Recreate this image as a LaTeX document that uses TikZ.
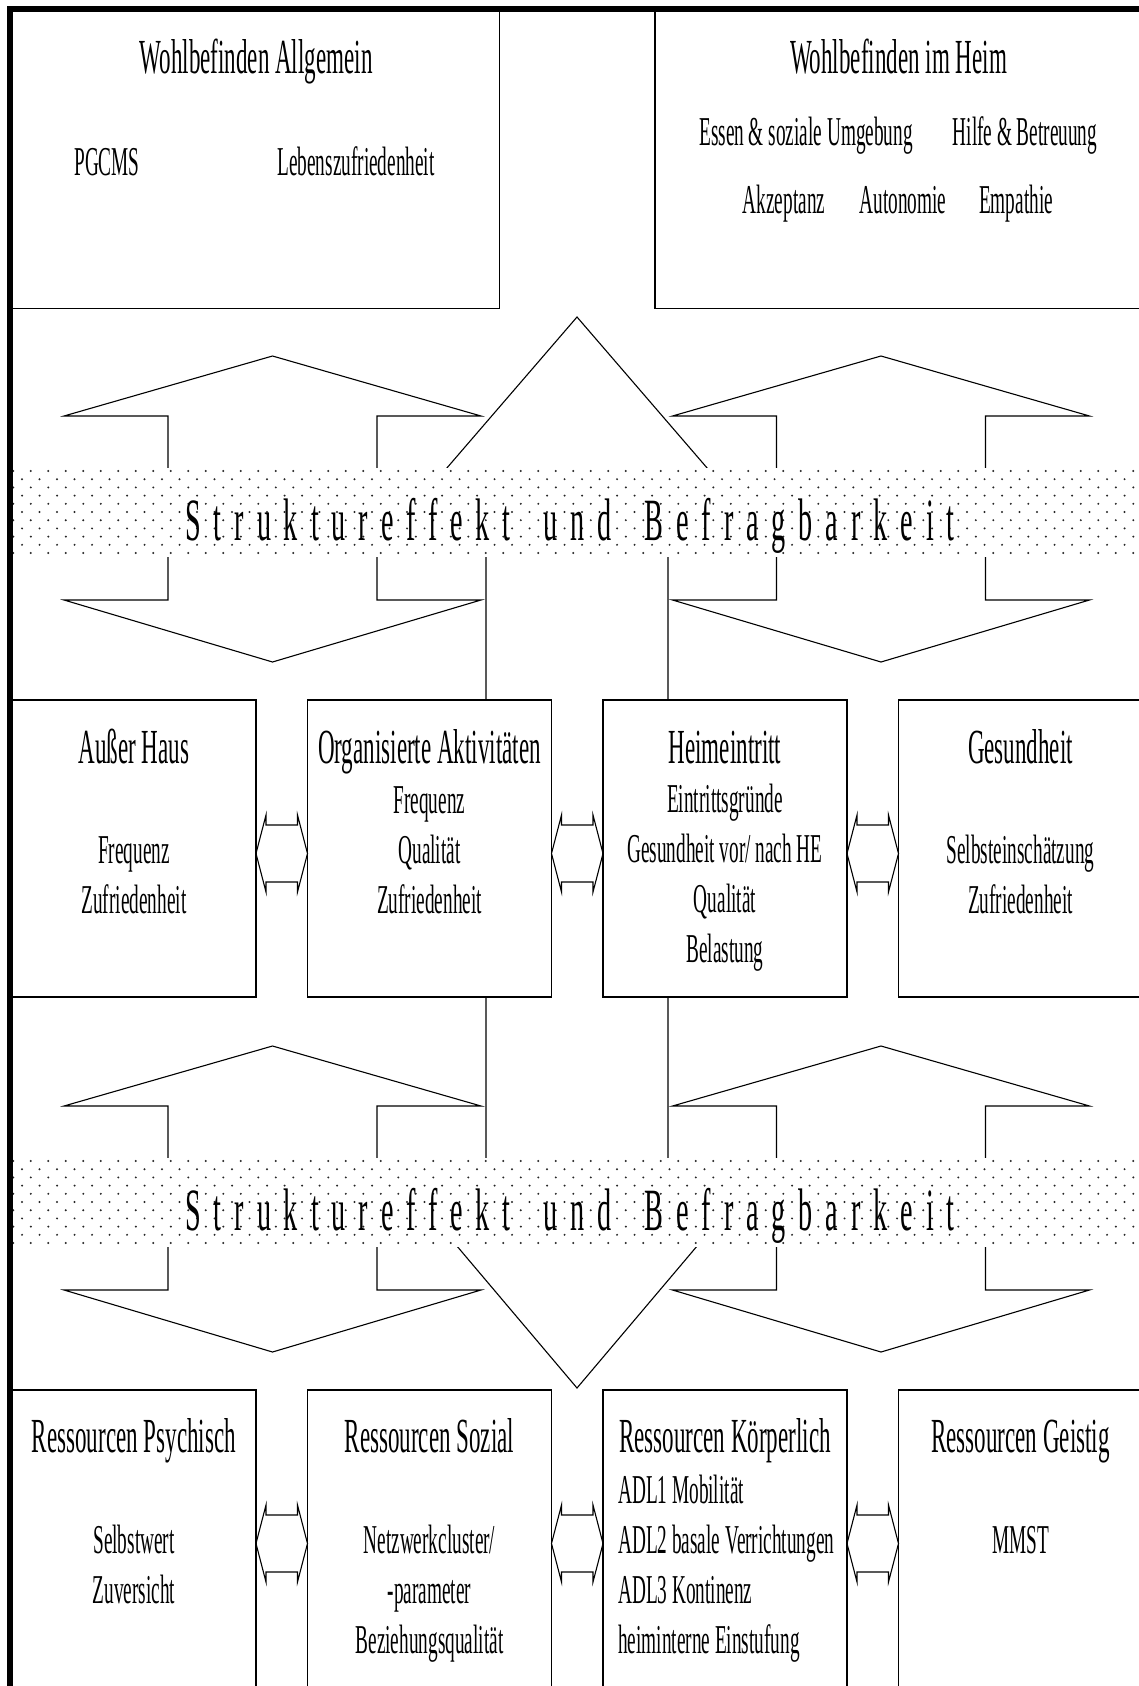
\documentclass[tikz,border=0pt]{standalone}
\usepackage{fontspec}
\setmainfont{Liberation Serif}[FakeStretch=0.47]
\newfontfamily\bandfamily{Liberation Serif}[FakeStretch=0.47,LetterSpace=21.5]
\usetikzlibrary{calc,positioning}

\newcommand\boxhead{\fontsize{49}{50}\selectfont}
\newcommand\boxitem{\fontsize{41}{50}\selectfont}
\newcommand\bandtext{\bandfamily\fontsize{60}{60}\selectfont}

% double arrow in the gap between two boxes of a row
\newcommand\pairarrow[2]{%
  \draw[pairline] ($(#1.north east)+(0,153.5)$) coordinate (#1-#2)
    -- ++(10,-38.5) -- ++(0,10) -- ($(#2.north west)+(-10,125)$) -- ++(0,-10)
    -- ($(#2.north west)+(0,153.5)$) -- ++(-10,38.5) -- ++(0,-10)
    -- ($(#1.north east)+(10,182)$) -- ++(0,10) -- cycle;}

% big up/down arrow, centre x and upper tip y
\newcommand\bigpair[2]{%
  \draw[pairline] (#1,#2) -- ++(208.5,60) -- ++(-104,0) -- ++(0,184) -- ++(104,0)
    -- ++(-208.5,62) -- ++(-208.5,-62) -- ++(104,0) -- ++(0,-184) -- ++(-104,0) -- cycle;}

% dotted band with its label, top y and name
\newcommand\band[2]{%
  \fill[white] (12.6,#1) rectangle (1139,{#1+89});
  \foreach \r in {0,...,10}{
    \foreach \c in {0,...,64}{
      \fill[dot] ({13.3+17.5*\c+8.75*mod(\r,2)},{#1+3+8.2*\r}) circle[radius=1.1pt];
    }
  }
  \node[bandlabel] (#2) at (570,{#1+72})
    {Struktureffekt\hspace{13pt} und\hspace{13pt} Befragbarkeit};}

\begin{document}
\begin{tikzpicture}[x=1pt,y=-1pt,
    panel/.style={draw, line width=1.3pt, fill=white, inner sep=0pt, outer sep=0pt,
      minimum width=244pt, minimum height=297pt},
    wide/.style={panel, minimum width=487pt},
    boxtitle/.style={font=\boxhead, anchor=base, inner sep=0pt},
    boxentry/.style={font=\boxitem, anchor=base, inner sep=0pt, align=center},
    pairline/.style={line width=1.1pt, line join=miter},
    dot/.style={fill=black!85},
    bandlabel/.style={font=\bandtext, anchor=base, inner sep=0pt}]
  \useasboundingbox (0,0) rectangle (1139,1686);
  \clip (0,0) rectangle (1139,1686);

  % arrows first, the bands cover their middle
  \bigpair{272.5}{356}
  \bigpair{881}{356}
  \bigpair{272.5}{1046}
  \bigpair{881}{1046}
  \draw[pairline] (486,700) -- (486,505) -- (415,505) -- (577,317)
    -- (739,505) -- (668,505) -- (668,700);
  \draw[pairline] (486,997) -- (486,1200) -- (418,1200) -- (577,1388)
    -- (736,1200) -- (668,1200) -- (668,997);

  \band{468}{band1}
  \band{1158}{band2}

  % top row
  \node[wide, anchor=north west] (wballg) at (12.6,11.5) {};
  \node[wide, anchor=north west] (wbheim) at (655,11.5) {};
  \node[boxtitle] (wballg-t) at ($(wballg.north)+(0,62)$) {Wohlbefinden Allgemein};
  \node[boxentry] (pgcms) at (107,175) {PGCMS};
  \node[boxentry] (leben) at (356,175) {Lebenszufriedenheit};
  \node[boxtitle] (wbheim-t) at ($(wbheim.north)+(0,62)$) {Wohlbefinden im Heim};
  \node[boxentry] (essen) at (806,145) {Essen \& soziale Umgebung};
  \node[boxentry] (hilfe) at (1025,145) {Hilfe \& Betreuung};
  \node[boxentry] (akzept) at (784,213) {Akzeptanz};
  \node[boxentry] (auton) at (903,213) {Autonomie};
  \node[boxentry] (empath) at (1016,213) {Empathie};

  % middle row (entries sit on the baseline of their last line)
  \node[panel, anchor=north west] (haus) at (12,700) {};
  \node[panel, right=51.5pt of haus] (orga) {};
  \node[panel, right=51.5pt of orga] (eintritt) {};
  \node[panel, right=51.5pt of eintritt] (gesund) {};
  \node[boxtitle] (haus-t) at ($(haus.north)+(0,63)$) {Außer Haus};
  \node[boxentry] (haus-e) at ($(haus.north)+(0,213)$) {Frequenz\\Zufriedenheit};
  \node[boxtitle] (orga-t) at ($(orga.north)+(0,63)$) {Organisierte Aktivitäten};
  \node[boxentry] (orga-e) at ($(orga.north)+(0,213)$) {Frequenz\\Qualität\\Zufriedenheit};
  \node[boxtitle] (eintritt-t) at ($(eintritt.north)+(0,63)$) {Heimeintritt};
  \node[boxentry] (eintritt-e) at ($(eintritt.north)+(0,262)$)
    {Eintrittsgründe\\Gesundheit vor/ nach HE\\Qualität\\Belastung};
  \node[boxtitle] (gesund-t) at ($(gesund.north)+(0,63)$) {Gesundheit};
  \node[boxentry] (gesund-e) at ($(gesund.north)+(0,213)$) {Selbsteinschätzung\\Zufriedenheit};
  \pairarrow{haus}{orga}
  \pairarrow{orga}{eintritt}
  \pairarrow{eintritt}{gesund}

  % bottom row
  \node[panel, anchor=north west] (psych) at (12,1390) {};
  \node[panel, right=51.5pt of psych] (sozial) {};
  \node[panel, right=51.5pt of sozial] (koerper) {};
  \node[panel, right=51.5pt of koerper] (geist) {};
  \node[boxtitle] (psych-t) at ($(psych.north)+(0,62)$) {Ressourcen Psychisch};
  \node[boxentry] (psych-e) at ($(psych.north)+(0,213)$) {Selbstwert\\Zuversicht};
  \node[boxtitle] (sozial-t) at ($(sozial.north)+(0,62)$) {Ressourcen Sozial};
  \node[boxentry] (sozial-e) at ($(sozial.north)+(0,263)$)
    {Netzwerkcluster/\\-parameter\\Beziehungsqualität};
  \node[boxtitle] (koerper-t) at ($(koerper.north)+(0,62)$) {Ressourcen Körperlich};
  \node[boxentry, anchor=base west, align=left] (koerper-e) at ($(koerper.north west)+(15,263)$)
    {ADL1 Mobilität\\ADL2 basale Verrichtungen\\ADL3 Kontinenz\\heiminterne Einstufung};
  \node[boxtitle] (geist-t) at ($(geist.north)+(0,62)$) {Ressourcen Geistig};
  \node[boxentry] (geist-e) at ($(geist.north)+(0,163)$) {MMST};
  \pairarrow{psych}{sozial}
  \pairarrow{sozial}{koerper}
  \pairarrow{koerper}{geist}

  % heavy frame
  \draw[line width=6pt] (9.7,8.7) rectangle (1300,1800);
\end{tikzpicture}
\end{document}
